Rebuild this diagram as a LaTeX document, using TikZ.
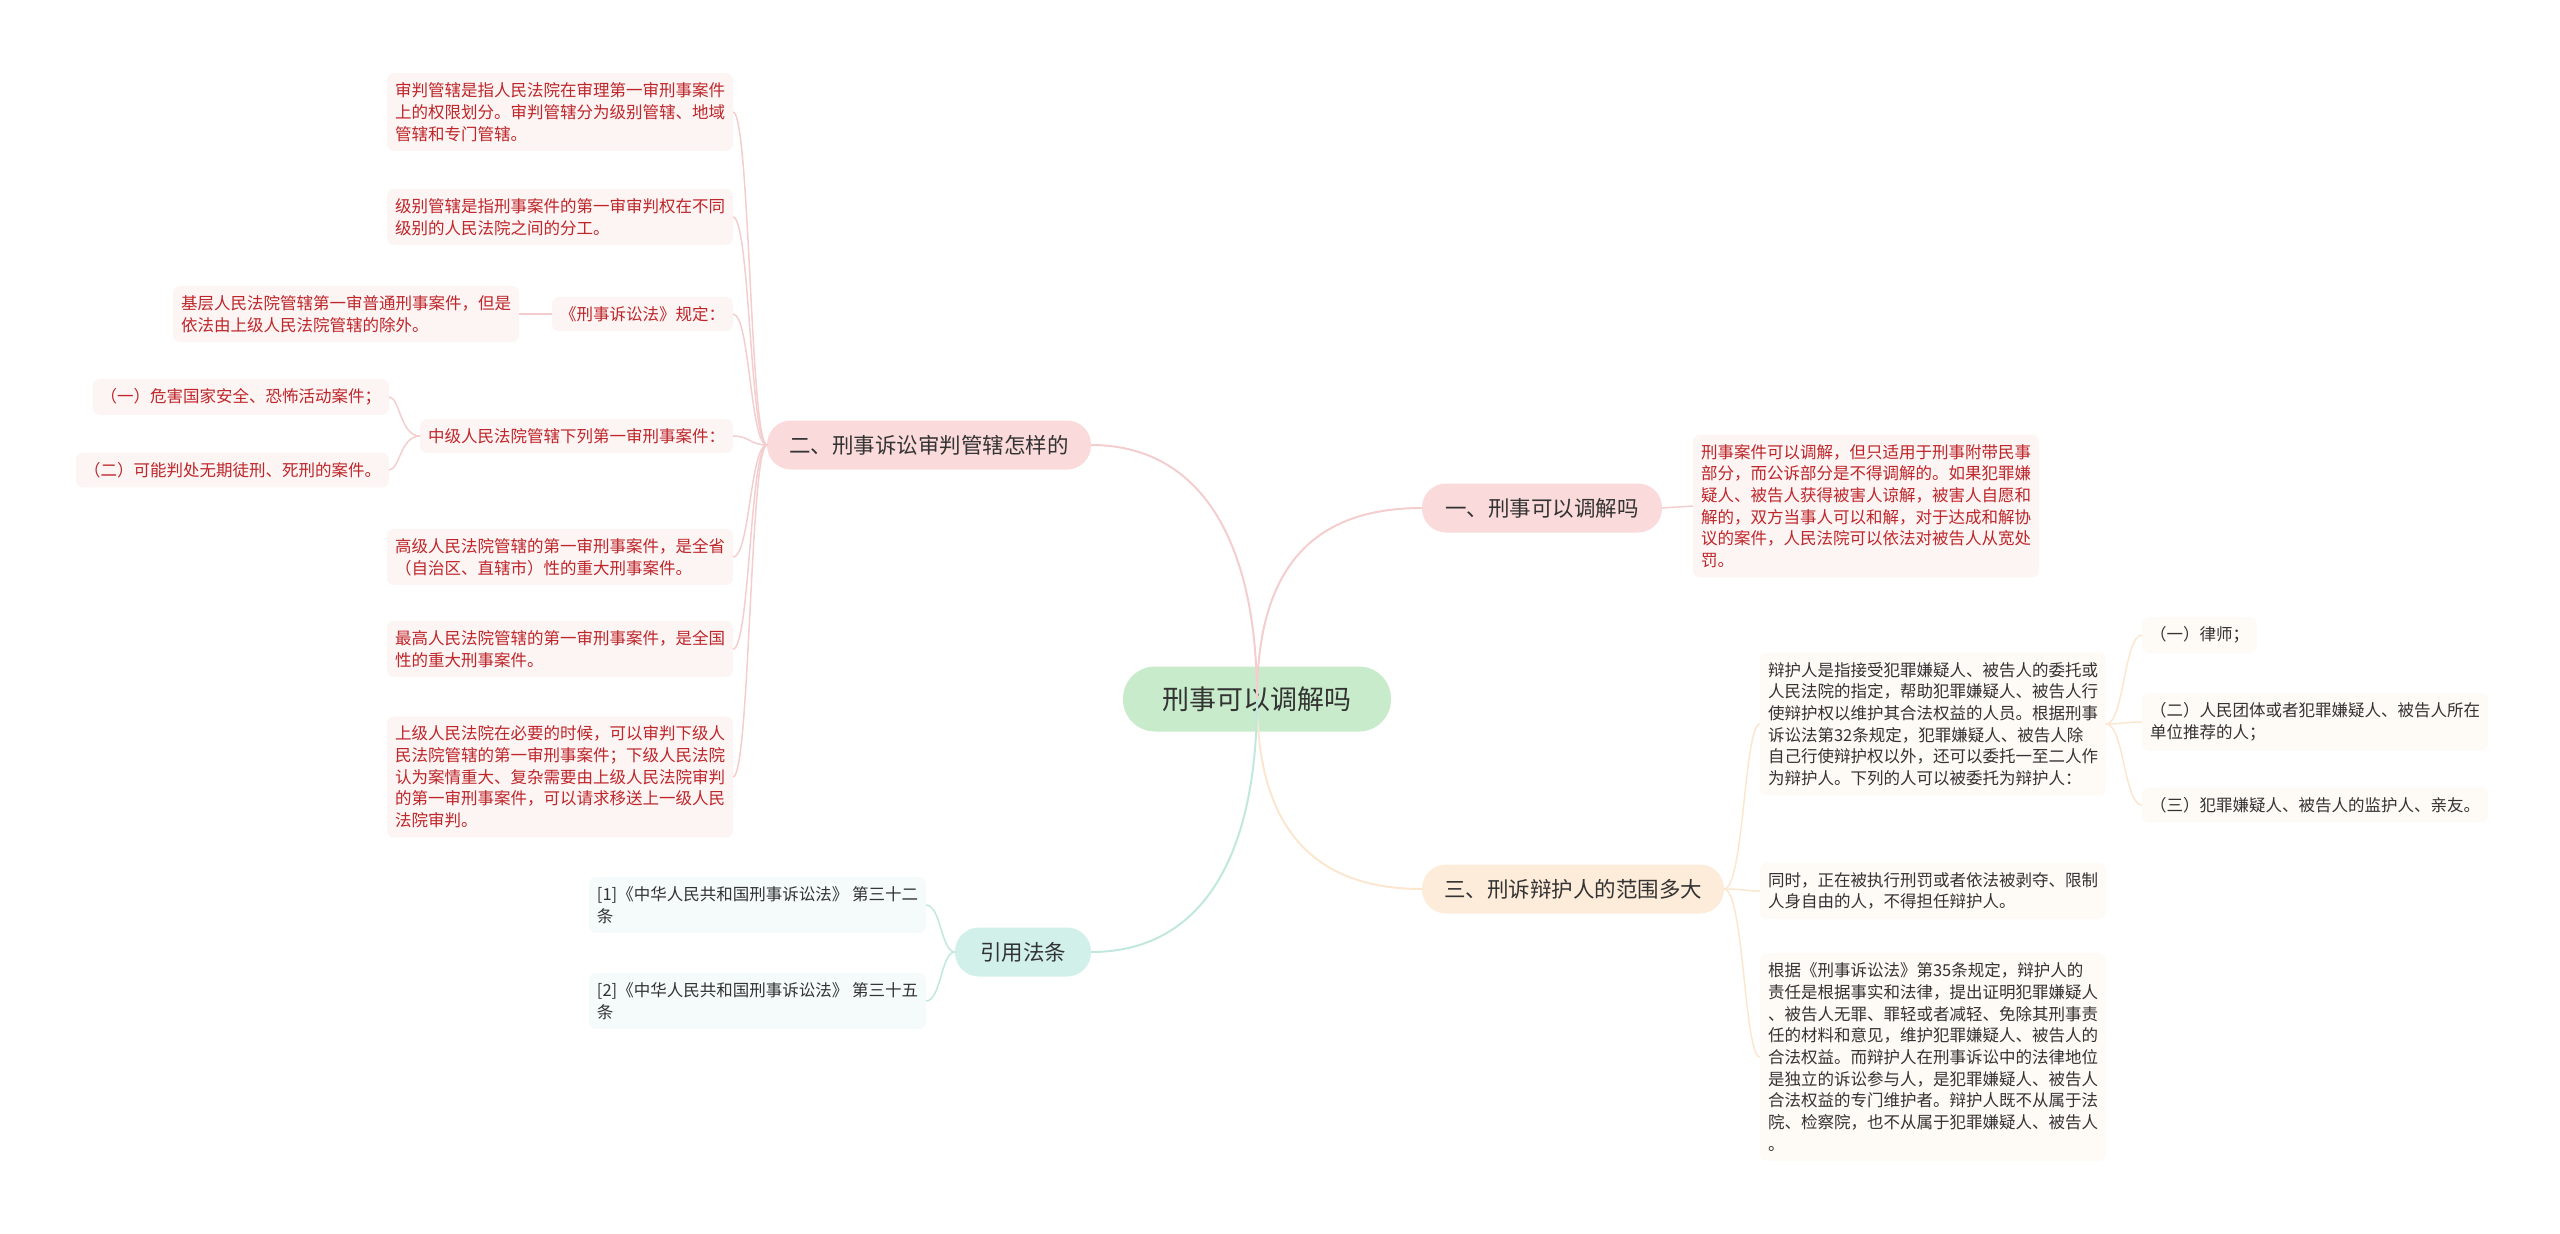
\documentclass[tikz,border=0pt]{standalone}
\usepackage{fontspec}
\setmainfont{Noto Sans CJK SC}
\definecolor{pinkline}{RGB}{244,206,206}
\definecolor{pinkfill}{RGB}{250,218,218}
\definecolor{leafpink}{RGB}{253,244,244}
\definecolor{redtext}{RGB}{190,38,42}
\definecolor{rootfill}{RGB}{200,236,203}
\definecolor{peachline}{RGB}{251,230,208}
\definecolor{peachfill}{RGB}{253,236,218}
\definecolor{leafpeach}{RGB}{254,250,245}
\definecolor{tealline}{RGB}{192,232,223}
\definecolor{tealfill}{RGB}{208,240,233}
\definecolor{leafteal}{RGB}{244,251,250}
\definecolor{darktext}{RGB}{51,51,51}
\begin{document}
\begin{tikzpicture}[x=1pt,y=-1pt,
  every node/.style={inner sep=0pt, outer sep=0pt},
  rootnode/.style={fill=rootfill, rounded corners=32pt, minimum height=65pt, minimum width=268pt, text=darktext, font=\fontsize{27}{32}\selectfont},
  branch/.style={rounded corners=24pt, minimum height=49pt, text=darktext, font=\fontsize{21.5}{26}\selectfont},
  leaf/.style={rounded corners=7pt, align=left, inner xsep=8pt, inner ysep=9.5pt, font=\fontsize{16.5}{21.7}\selectfont},
  redleaf/.style={leaf, fill=leafpink, text=redtext},
  peachleaf/.style={leaf, fill=leafpeach, text=darktext},
  tealleaf/.style={leaf, fill=leafteal, text=darktext},
  mainline/.style={line width=2pt},
  subline/.style={line width=1.5pt}
]
\useasboundingbox (0,0) rectangle (2560,1234);

% root and branches
\node[rootnode] (root) at (1257,699) {刑事可以调解吗};
\node[branch, fill=pinkfill, minimum width=240pt] (b1) at (1542,508) {一、刑事可以调解吗};
\node[branch, fill=pinkfill, minimum width=324pt] (b2) at (929,445) {二、刑事诉讼审判管辖怎样的};
\node[branch, fill=peachfill, minimum width=302pt] (b3) at (1573,889) {三、刑诉辩护人的范围多大};
\node[branch, fill=tealfill, minimum width=136pt] (b4) at (1023,952) {引用法条};

% branch 1 leaf
\node[redleaf, anchor=west] (a1) at (1693,506) {刑事案件可以调解，但只适用于刑事附带民事\\部分，而公诉部分是不得调解的。如果犯罪嫌\\疑人、被告人获得被害人谅解，被害人自愿和\\解的，双方当事人可以和解，对于达成和解协\\议的案件，人民法院可以依法对被告人从宽处\\罚。};

% branch 2 leaves
\node[redleaf, anchor=east] (l1) at (733,112) {审判管辖是指人民法院在审理第一审刑事案件\\上的权限划分。审判管辖分为级别管辖、地域\\管辖和专门管辖。};
\node[redleaf, anchor=east] (l2) at (733,217) {级别管辖是指刑事案件的第一审审判权在不同\\级别的人民法院之间的分工。};
\node[redleaf, anchor=east] (l3) at (733,314) {《刑事诉讼法》规定：};
\node[redleaf, anchor=east] (l3a) at (519,314) {基层人民法院管辖第一审普通刑事案件，但是\\依法由上级人民法院管辖的除外。};
\node[redleaf, anchor=east] (l4) at (733,436) {中级人民法院管辖下列第一审刑事案件：};
\node[redleaf, anchor=east] (l4a) at (389,397) {（一）危害国家安全、恐怖活动案件；};
\node[redleaf, anchor=east] (l4b) at (389,470) {（二）可能判处无期徒刑、死刑的案件。};
\node[redleaf, anchor=east] (l5) at (733,557) {高级人民法院管辖的第一审刑事案件，是全省\\（自治区、直辖市）性的重大刑事案件。};
\node[redleaf, anchor=east] (l6) at (733,649) {最高人民法院管辖的第一审刑事案件，是全国\\性的重大刑事案件。};
\node[redleaf, anchor=east] (l7) at (733,777) {上级人民法院在必要的时候，可以审判下级人\\民法院管辖的第一审刑事案件；下级人民法院\\认为案情重大、复杂需要由上级人民法院审判\\的第一审刑事案件，可以请求移送上一级人民\\法院审判。};

% branch 3 leaves
\node[peachleaf, anchor=west] (r1) at (1760,724) {辩护人是指接受犯罪嫌疑人、被告人的委托或\\人民法院的指定，帮助犯罪嫌疑人、被告人行\\使辩护权以维护其合法权益的人员。根据刑事\\诉讼法第32条规定，犯罪嫌疑人、被告人除\\自己行使辩护权以外，还可以委托一至二人作\\为辩护人。下列的人可以被委托为辩护人：};
\node[peachleaf, anchor=west] (r1a) at (2142,635) {（一）律师；};
\node[peachleaf, anchor=west] (r1b) at (2142,722) {（二）人民团体或者犯罪嫌疑人、被告人所在\\单位推荐的人；};
\node[peachleaf, anchor=west] (r1c) at (2142,805) {（三）犯罪嫌疑人、被告人的监护人、亲友。};
\node[peachleaf, anchor=west] (r2) at (1760,891) {同时，正在被执行刑罚或者依法被剥夺、限制\\人身自由的人，不得担任辩护人。};
\node[peachleaf, anchor=west] (r3) at (1760,1057) {根据《刑事诉讼法》第35条规定，辩护人的\\责任是根据事实和法律，提出证明犯罪嫌疑人\\、被告人无罪、罪轻或者减轻、免除其刑事责\\任的材料和意见，维护犯罪嫌疑人、被告人的\\合法权益。而辩护人在刑事诉讼中的法律地位\\是独立的诉讼参与人，是犯罪嫌疑人、被告人\\合法权益的专门维护者。辩护人既不从属于法\\院、检察院，也不从属于犯罪嫌疑人、被告人\\。};

% branch 4 leaves
\node[tealleaf, anchor=east] (c1) at (926,905) {[1]《中华人民共和国刑事诉讼法》 第三十二\\条};
\node[tealleaf, anchor=east] (c2) at (926,1001) {[2]《中华人民共和国刑事诉讼法》 第三十五\\条};

% spine helper coordinates
\coordinate (sp2) at (750,445);
\coordinate (sp3) at (1744,889);
\coordinate (spr1) at (2124,724);
\coordinate (spl4) at (400,436);
\coordinate (spb4) at (941,952);

% main connectors
\draw[pinkline, mainline] (root.center) .. controls (1257,565) and (1315,508) .. (b1.west);
\draw[pinkline, mainline] (root.center) .. controls (1257,540) and (1200,445) .. (b2.east);
\draw[peachline, mainline] (root.center) .. controls (1257,830) and (1315,889) .. (b3.west);
\draw[tealline, mainline] (root.center) .. controls (1257,860) and (1200,952) .. (b4.east);

% branch 1
\draw[pinkline, subline] (b1.east) -- (a1.west);

% branch 2
\foreach \n in {l1,l2,l3,l4,l5,l6,l7}{
  \draw[pinkline, subline] (b2.west) .. controls (sp2) and (sp2 |- \n.east) .. (\n.east);
}
\draw[pinkline, subline] (l3.west) -- (l3a.east);
\draw[pinkline, subline] (l4.west) .. controls (spl4) and (spl4 |- l4a.east) .. (l4a.east);
\draw[pinkline, subline] (l4.west) .. controls (spl4) and (spl4 |- l4b.east) .. (l4b.east);

% branch 3
\draw[peachline, subline] (b3.east) .. controls (sp3) and (sp3 |- r1.west) .. (r1.west);
\draw[peachline, subline] (b3.east) .. controls (sp3) and (sp3 |- r2.west) .. (r2.west);
\draw[peachline, subline] (b3.east) .. controls (sp3) and (sp3 |- r3.west) .. (r3.west);
\draw[peachline, subline] (r1.east) .. controls (spr1) and (spr1 |- r1a.west) .. (r1a.west);
\draw[peachline, subline] (r1.east) .. controls (spr1) and (spr1 |- r1b.west) .. (r1b.west);
\draw[peachline, subline] (r1.east) .. controls (spr1) and (spr1 |- r1c.west) .. (r1c.west);

% branch 4
\draw[tealline, subline] (b4.west) .. controls (spb4) and (spb4 |- c1.east) .. (c1.east);
\draw[tealline, subline] (b4.west) .. controls (spb4) and (spb4 |- c2.east) .. (c2.east);
\end{tikzpicture}
\end{document}
